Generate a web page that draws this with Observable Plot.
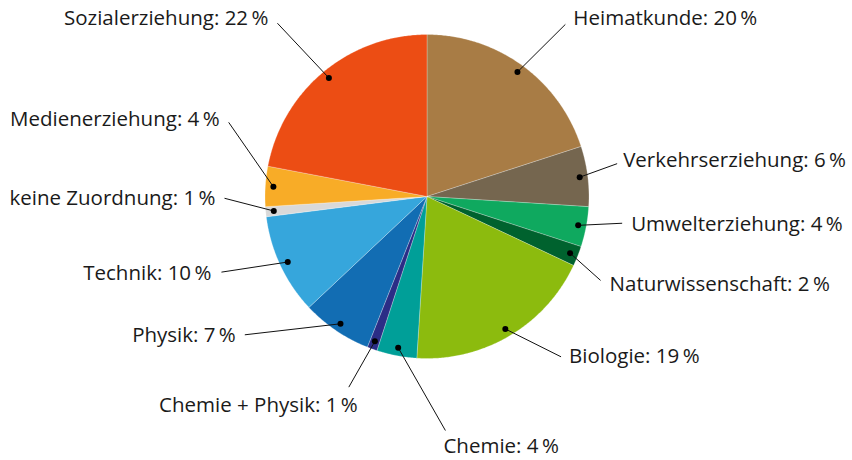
<!DOCTYPE html>
<html><head><meta charset="utf-8">
<script src="https://cdn.jsdelivr.net/npm/d3@7"></script>
<script src="https://cdn.jsdelivr.net/npm/@observablehq/plot@0.6"></script>
<style>html,body{margin:0;padding:0;background:#fff;overflow:hidden}</style>
</head><body><div id="chart"></div>
<script>
// ---- data ----
const categories = ["Heimatkunde","Verkehrserziehung","Umwelterziehung","Naturwissenschaft","Biologie","Chemie","Chemie + Physik","Physik","Technik","keine Zuordnung","Medienerziehung","Sozialerziehung"];
const shares = [20, 6, 4, 2, 19, 4, 1, 7, 10, 1, 4, 22];
const colors = ["#a87c45","#75664f","#0fa95f","#00622e","#8cbb0e","#009f98","#2b2d86","#126db3","#36a6dc","#d9d9d9","#f8ac27","#ec4d14"];

// ---- label layout (polar position of leader end, in pie radii / degrees clockwise from top) ----
const leaderAngle  = [38.8, 80.2, 97.8, 115.8, 140.1, 175.5, 202.3, 232.8, 249.8, 269.5, 290.5, 319.2];
const leaderRadius = [1.363, 1.191, 1.216, 1.19, 1.29, 1.449, 1.272, 1.412, 1.352, 1.25, 1.307, 1.413];
const labelAnchor  = ["start","start","start","start","start","start","end","end","end","end","end","end"];
const labelDx = [8, 6, 9, 9, 8, -2, 9, -9, -10, -9, -9, -9];
const labelDy = [-6, -3, 1, 4, 0, 16, 18, 1, 1, 0, -3, -5];

const W = 852, H = 460, CX = 426.5, CY = 196, R = 162; // pie centre and radius in px
const total = d3.sum(shares);
const rad = a => a * Math.PI / 180;
const polar = (deg, r) => ({x: r * Math.sin(rad(deg)), y: r * Math.cos(rad(deg))});

// slice polygons
let cum = 0;
const slicePts = [], dots = [], leaders = [], labels = [];
categories.forEach((name, i) => {
  const a0 = cum / total * 360, a1 = (cum + shares[i]) / total * 360;
  cum += shares[i];
  slicePts.push({name, ...polar(0, 0)});
  const n = Math.max(2, Math.ceil((a1 - a0) / 0.5));
  for (let k = 0; k <= n; k++) slicePts.push({name, ...polar(a0 + (a1 - a0) * k / n, 1)});
  slicePts.push({name, x: 0, y: 0});
  const mid = (a0 + a1) / 2;
  const d = polar(mid, 0.95);
  dots.push({name, ...d});
  const e = polar(leaderAngle[i], leaderRadius[i]);
  leaders.push({name, x1: d.x, y1: d.y, x2: e.x, y2: e.y});
  labels.push({
    text: `${name}: ${shares[i]}\u2009%`,
    x: e.x + labelDx[i] / R, y: e.y - labelDy[i] / R, anchor: labelAnchor[i]
  });
});

const font = {fill: "#1a1a1a", fontSize: 20.5, fontFamily: "Open Sans"};
const chart = Plot.plot({
  width: W, height: H, margin: 0,
  style: {background: "#fff"},
  x: {domain: [-CX / R, (W - CX) / R], axis: null},
  y: {domain: [-(H - CY) / R, CY / R], axis: null},
  color: {domain: categories, range: colors},
  marks: [
    Plot.line(slicePts, {x: "x", y: "y", z: "name", fill: "name", stroke: "#ffffff", strokeWidth: 0.5, strokeOpacity: 0.5, curve: "linear"}),
    Plot.link(leaders, {x1: "x1", y1: "y1", x2: "x2", y2: "y2", stroke: "#111", strokeWidth: 1}),
    Plot.dot(dots, {x: "x", y: "y", r: 3, fill: "#000", stroke: null}),
    Plot.text(labels.filter(d => d.anchor === "start"), {x: "x", y: "y", text: "text", textAnchor: "start", ...font}),
    Plot.text(labels.filter(d => d.anchor === "end"), {x: "x", y: "y", text: "text", textAnchor: "end", ...font})
  ]
});
document.getElementById("chart").appendChild(chart);
</script>
</body></html>
